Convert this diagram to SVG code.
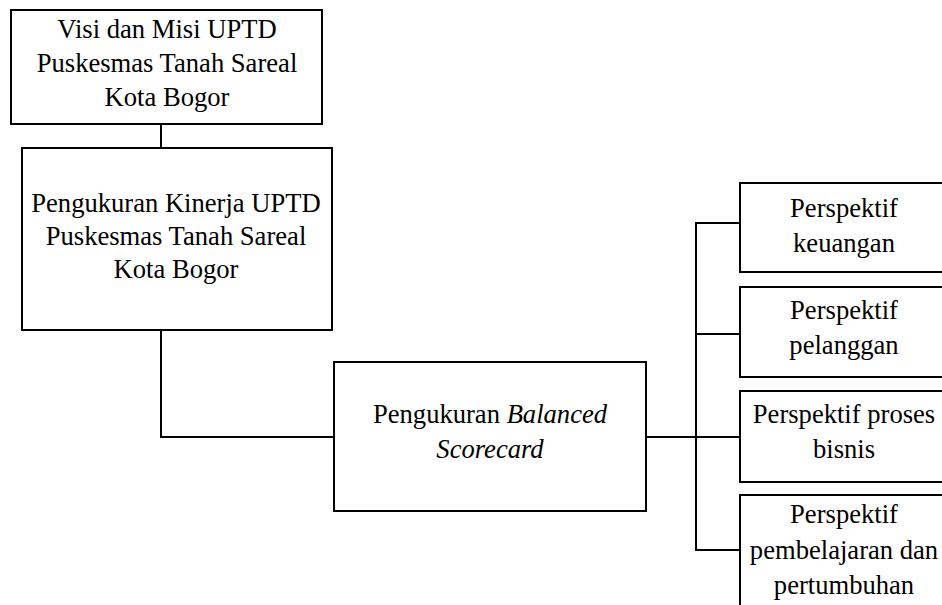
<svg xmlns="http://www.w3.org/2000/svg" width="942" height="605" viewBox="0 0 942 605">
<style>
.box{fill:#fff;stroke:#000;stroke-width:2}
.ln{fill:none;stroke:#000;stroke-width:2}
text{font-size:26.6px;fill:#000;text-anchor:middle}
.it{font-style:italic}
</style>
<rect width="942" height="605" fill="#fff"/>
<g id="connectors">
<line class="ln" x1="161" y1="124" x2="161" y2="148"/>
<polyline class="ln" points="161,330 161,437 334,437"/>
<line class="ln" x1="646" y1="437" x2="696" y2="437"/>
<line class="ln" x1="696" y1="223" x2="696" y2="550"/>
<line class="ln" x1="695" y1="223" x2="740" y2="223"/>
<line class="ln" x1="696" y1="334" x2="740" y2="334"/>
<line class="ln" x1="696" y1="437" x2="740" y2="437"/>
<line class="ln" x1="695" y1="550" x2="740" y2="550"/>
</g>
<g font-family="Liberation Serif, Times New Roman, DejaVu Serif, serif">
<g id="visi">
<rect class="box" x="11" y="10" width="311" height="114"/>
<text x="167" y="38">Visi dan Misi UPTD</text>
<text x="167" y="72">Puskesmas Tanah Sareal</text>
<text x="167" y="106">Kota Bogor</text>
</g>
<g id="kinerja">
<rect class="box" x="22" y="148" width="310" height="182"/>
<text x="176" y="212">Pengukuran Kinerja UPTD</text>
<text x="176" y="245">Puskesmas Tanah Sareal</text>
<text x="176" y="278">Kota Bogor</text>
</g>
<g id="bsc">
<rect class="box" x="334" y="362" width="312" height="149"/>
<text x="490" y="423">Pengukuran <tspan class="it">Balanced</tspan></text>
<text x="490" y="458" class="it">Scorecard</text>
</g>
<g id="keuangan">
<rect class="box" x="740" y="183" width="212" height="89"/>
<text x="844" y="217">Perspektif</text>
<text x="844" y="252">keuangan</text>
</g>
<g id="pelanggan">
<rect class="box" x="740" y="287" width="212" height="90"/>
<text x="844" y="319">Perspektif</text>
<text x="844" y="354">pelanggan</text>
</g>
<g id="proses">
<rect class="box" x="740" y="391" width="212" height="91"/>
<text x="844" y="423">Perspektif proses</text>
<text x="844" y="458">bisnis</text>
</g>
<g id="pembelajaran">
<rect class="box" x="740" y="495" width="212" height="130"/>
<text x="844" y="523">Perspektif</text>
<text x="844" y="559">pembelajaran dan</text>
<text x="844" y="594">pertumbuhan</text>
</g>
</g>
</svg>
